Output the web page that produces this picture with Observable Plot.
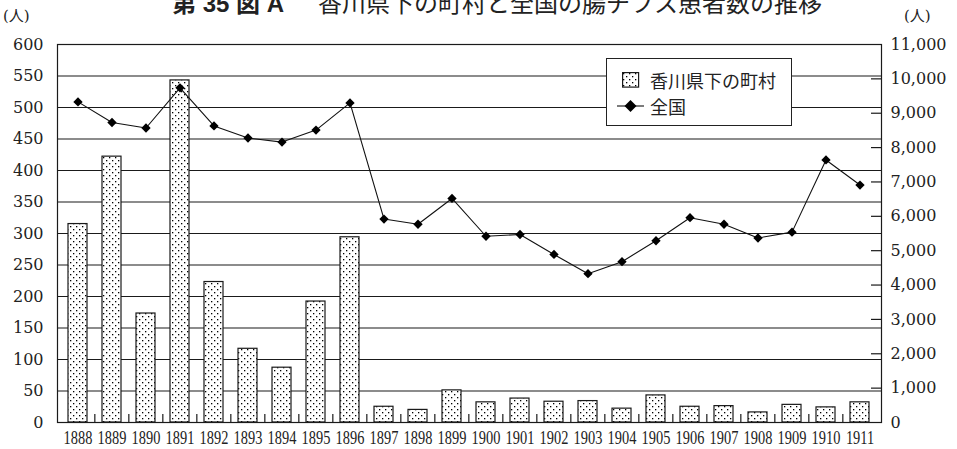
<!DOCTYPE html>
<html>
<head>
<meta charset="utf-8">
<script src="https://cdn.jsdelivr.net/npm/d3@7"></script>
<script src="https://cdn.jsdelivr.net/npm/@observablehq/plot@0.6"></script>
<style>
  html, body { margin: 0; padding: 0; background: #fff; }
  #wrap { position: relative; width: 957px; height: 449px; overflow: hidden; }
  .title { position: absolute; left: 172px; top: -10px; white-space: nowrap; line-height: 1; font-size: 24px; color: #222; font-family: "Noto Sans CJK JP", sans-serif; }
  .title .a { font-weight: bold; font-family: "Liberation Sans", "Noto Sans CJK JP", sans-serif; }
  .title .b { margin-left: 34px; }
  .unit { position: absolute; top: 9px; font-size: 15px; line-height: 1; color: #222; font-family: "DejaVu Serif", "Noto Sans CJK JP", serif; }
  .legend { position: absolute; left: 606px; top: 58px; width: 184px; height: 66px; border: 1.3px solid #222; background: #fff; font-family: "Noto Sans CJK JP", sans-serif; font-size: 18px; color: #222; }
  .legend .item { position: absolute; left: 10px; display: flex; align-items: center; line-height: 1; }
  .legend svg { display: block; }
</style>
</head>
<body>
<div id="wrap"></div>
<script>
const years = ["1888","1889","1890","1891","1892","1893","1894","1895","1896","1897","1898","1899","1900","1901","1902","1903","1904","1905","1906","1907","1908","1909","1910","1911"];
const kagawa = [315,422,173,543,223,117,87,192,294,25,20,51,32,38,33,34,22,43,25,26,16,28,24,32];
const national = [9330,8730,8570,9740,8630,8280,8160,8510,9300,5920,5770,6520,5420,5470,4890,4330,4680,5290,5960,5770,5370,5540,7640,6910];
const leftTicks = [0,50,100,150,200,250,300,350,400,450,500,550,600];
const rightTicks = [0,1000,2000,3000,4000,5000,6000,7000,8000,9000,10000,11000];
const seriesNames = ["香川県下の町村", "全国"];

const leftMax = 600, rightMax = 11000;
const toLeft = v => v * leftMax / rightMax;
const data = years.map((y, i) => ({year: y, kagawa: kagawa[i], national: national[i]}));

const W = 957, H = 449, mL = 57, mR = 76, mT = 44, mB = 27;
const plotW = W - mL - mR, plotH = H - mT - mB;
const step = plotW / years.length;
const ink = "#1a1a1a";
const serif = "DejaVu Serif";

const chart = Plot.plot({
  width: W, height: H,
  marginLeft: mL, marginRight: mR, marginTop: mT, marginBottom: mB,
  style: {fontFamily: serif, fontSize: "16px", color: "#222", background: "#fff"},
  x: {type: "band", domain: years, paddingInner: 0.43, paddingOuter: 0.215, label: null},
  y: {domain: [0, leftMax], label: null},
  marks: [
    Plot.gridY(leftTicks.filter(d => d > 0), {stroke: ink, strokeOpacity: 1, strokeWidth: 1.2}),
    Plot.barY(data, {x: "year", y: "kagawa", fill: "url(#dots)", stroke: ink, strokeWidth: 1.2}),
    Plot.frame({stroke: ink, strokeWidth: 1.2}),
    Plot.tickX(years.slice(1), {x: d => d, dx: -step / 2, insetTop: plotH - 8, stroke: ink, strokeWidth: 1.2}),
    Plot.tickY(rightTicks.slice(1, -1).map(toLeft), {y: d => d, insetLeft: plotW - 10, stroke: ink, strokeWidth: 1.2}),
    Plot.line(data, {x: "year", y: d => toLeft(d.national), stroke: "#111", strokeWidth: 1.1}),
    Plot.dot(data, {x: "year", y: d => toLeft(d.national), symbol: "diamond2", r: 4.2, fill: "#000", stroke: "none"}),
    Plot.axisY(leftTicks, {anchor: "left", label: null, tickSize: 0, tickPadding: 14, fontSize: 16, fontFamily: serif, fill: "#222"}),
    Plot.axisY(rightTicks.map(toLeft), {anchor: "right", label: null, tickSize: 0, tickPadding: 9, fontSize: 16, fontFamily: serif, fill: "#222",
      tickFormat: d => d3.format(",")(Math.round(d * rightMax / leftMax))}),
    Plot.axisX({label: null, tickSize: 0, tickPadding: 9, fontSize: 18, fontFamily: "Liberation Serif", fill: "#222"})
  ]
});

// dotted fill pattern
const ns = "http://www.w3.org/2000/svg";
const defs = document.createElementNS(ns, "defs");
defs.innerHTML = `<pattern id="dots" patternUnits="userSpaceOnUse" width="6" height="6">
  <rect width="6" height="6" fill="#fff"/>
  <rect x="1" y="1" width="1.3" height="1.3" fill="#000"/>
  <rect x="4" y="4" width="1.3" height="1.3" fill="#000"/>
</pattern>`;
chart.insertBefore(defs, chart.firstChild);

// condensed year labels
chart.querySelectorAll('g[aria-label="x-axis tick label"] text').forEach(t => {
  const tr = t.getAttribute("transform") || "";
  t.setAttribute("transform", tr + " scale(0.8,1)");
});

const wrap = document.getElementById("wrap");
wrap.appendChild(chart);

const title = document.createElement("div");
title.className = "title";
title.innerHTML = '<span class="a">第 35 図 A</span><span class="b">香川県下の町村と全国の腸チフス患者数の推移</span>';
wrap.appendChild(title);

const u1 = document.createElement("div");
u1.className = "unit"; u1.style.left = "3px"; u1.textContent = "(人)";
wrap.appendChild(u1);
const u2 = document.createElement("div");
u2.className = "unit"; u2.style.left = "904px"; u2.textContent = "(人)";
wrap.appendChild(u2);

const legend = document.createElement("div");
legend.className = "legend";
legend.innerHTML = `
  <div class="item" style="top:12px;left:15px">
    <svg width="18" height="16"><rect x="0.6" y="0.6" width="16" height="14.5" fill="url(#dots)" stroke="${ink}" stroke-width="1.2"/></svg>
    <span style="margin-left:10px">${seriesNames[0]}</span>
  </div>
  <div class="item" style="top:38px;left:10px">
    <svg width="28" height="16"><line x1="0" y1="8" x2="27" y2="8" stroke="#111" stroke-width="1.1"/><path d="M13.5,2 L19.5,8 L13.5,14 L7.5,8 Z" fill="#000"/></svg>
    <span style="margin-left:5px">${seriesNames[1]}</span>
  </div>`;
wrap.appendChild(legend);
</script>
</body>
</html>
